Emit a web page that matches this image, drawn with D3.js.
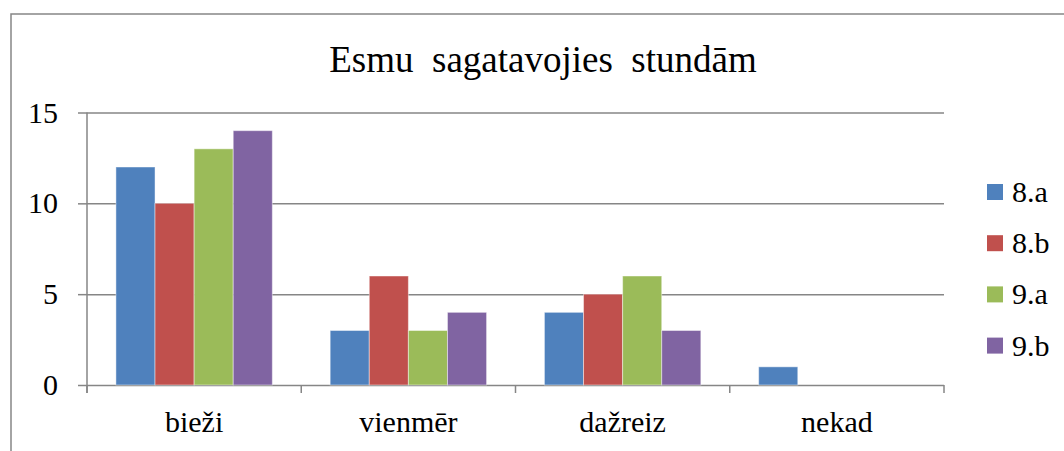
<!DOCTYPE html>
<html>
<head>
<meta charset="utf-8">
<script src="https://cdn.jsdelivr.net/npm/d3@7"></script>
<style>
  body { margin: 0; background: #fff; }
  .grid line, .ticks line { stroke: #868686; stroke-width: 1.5; }
</style>
</head>
<body>
<div id="target"></div>
<script>
const categories = ['bieži', 'vienmēr', 'dažreiz', 'nekad'];
const seriesNames = ['8.a', '8.b', '9.a', '9.b'];
const seriesColors = ['#4F81BD', '#C0504D', '#9BBB59', '#8064A2'];
const values8a = [12, 3, 4, 1];
const values8b = [10, 6, 5, 0];
const values9a = [13, 3, 6, 0];
const values9b = [14, 4, 3, 0];
const yTicks = [0, 5, 10, 15];
const title = 'Esmu  sagatavojies  stundām';

const serif = "Liberation Serif, serif";
const width = 1064;
const height = 451;
const margin = {
  'top': 112.5,
  'left': 87,
  'right': 120,
  'bottom': 66
};
const plotW = width - margin.left - margin.right;
const plotH = height - margin.top - margin.bottom;

const svg = d3.select('#target')
  .append('svg')
  .attr('width', width)
  .attr('height', height)
  .style('display', 'block');

// outer frame (only left and top edges are in view)
svg.append('rect')
  .attr('x', 11).attr('y', 14)
  .attr('width', width + 20).attr('height', height + 20)
  .attr('fill', 'none')
  .attr('stroke', '#868686')
  .attr('stroke-width', 1.5);

svg.append('text')
  .attr('x', 543)
  .attr('y', 72)
  .attr('text-anchor', 'middle')
  .attr('font-family', serif)
  .attr('font-size', 37)
  .style('white-space', 'pre')
  .text(title);

const g = svg.append('g')
  .attr('transform', `translate(${margin.left},${margin.top})`);

const x0 = d3.scaleBand()
  .domain(categories)
  .range([0, plotW])
  .padding(0);

const bw = x0.bandwidth();
const x1 = d3.scaleBand()
  .domain(seriesNames)
  .range([bw * 0.135, bw * 0.865])
  .padding(0);

const y = d3.scaleLinear()
  .domain([0, 15])
  .range([plotH, 0]);

// gridlines
g.append('g')
  .attr('class', 'grid')
  .call(d3.axisLeft(y).tickValues(yTicks).tickSize(-plotW).tickFormat(''))
  .call((s) => s.select('.domain').remove());

// y axis with outside tick marks and labels
g.append('g')
  .attr('class', 'ticks')
  .call(d3.axisLeft(y).tickValues(yTicks).tickSize(9).tickPadding(20).tickFormat(d3.format('d')))
  .call((s) => s.select('.domain').remove())
  .call((s) => s.selectAll('text')
    .attr('fill', '#000')
    .attr('font-family', serif)
    .attr('font-size', 30));

// y axis line, running down to the category tick length
g.append('line')
  .attr('x1', 0).attr('x2', 0)
  .attr('y1', 0).attr('y2', plotH + 8)
  .attr('stroke', '#868686')
  .attr('stroke-width', 1.5);

// category boundary ticks
const bounds = categories.map((c) => x0(c)).concat([plotW]);
g.append('g')
  .attr('class', 'ticks')
  .selectAll('line')
  .data(bounds)
  .enter()
  .append('line')
  .attr('x1', (d) => d).attr('x2', (d) => d)
  .attr('y1', plotH).attr('y2', plotH + 8);

g.append('g')
  .attr('transform', `translate(0,${plotH})`)
  .call(d3.axisBottom(x0).tickSize(0).tickPadding(26))
  .call((s) => s.select('.domain').remove())
  .call((s) => s.selectAll('text')
    .attr('fill', '#000')
    .attr('font-family', serif)
    .attr('font-size', 30));

const data = categories.map((c, i) => ({
  category: c,
  values: [values8a[i], values8b[i], values9a[i], values9b[i]]
}));

const groups = g.append('g')
  .selectAll('g')
  .data(data)
  .enter()
  .append('g')
  .attr('transform', (d) => `translate(${x0(d.category)},0)`);

groups.selectAll('rect')
  .data((d) => d.values.map((v, j) => ({ name: seriesNames[j], value: v, color: seriesColors[j] })))
  .enter()
  .filter((d) => d.value > 0)
  .append('rect')
  .attr('x', (d) => x1(d.name))
  .attr('y', (d) => y(d.value))
  .attr('width', x1.bandwidth())
  .attr('height', (d) => y(0) - y(d.value))
  .attr('fill', (d) => d.color)
  .attr('stroke', 'rgba(255,255,255,0.45)')
  .attr('stroke-width', 1);

// legend
const legend = svg.append('g')
  .attr('transform', 'translate(987,192)');

const items = legend.selectAll('g')
  .data(seriesNames)
  .enter()
  .append('g')
  .attr('transform', (d, i) => `translate(0,${i * 51.2})`);

items.append('rect')
  .attr('x', 0).attr('y', -8)
  .attr('width', 16).attr('height', 16)
  .attr('fill', (d, i) => seriesColors[i]);

items.append('text')
  .attr('x', 25)
  .attr('y', 10)
  .attr('font-family', serif)
  .attr('font-size', 30)
  .text((d) => d);
</script>
</body>
</html>
